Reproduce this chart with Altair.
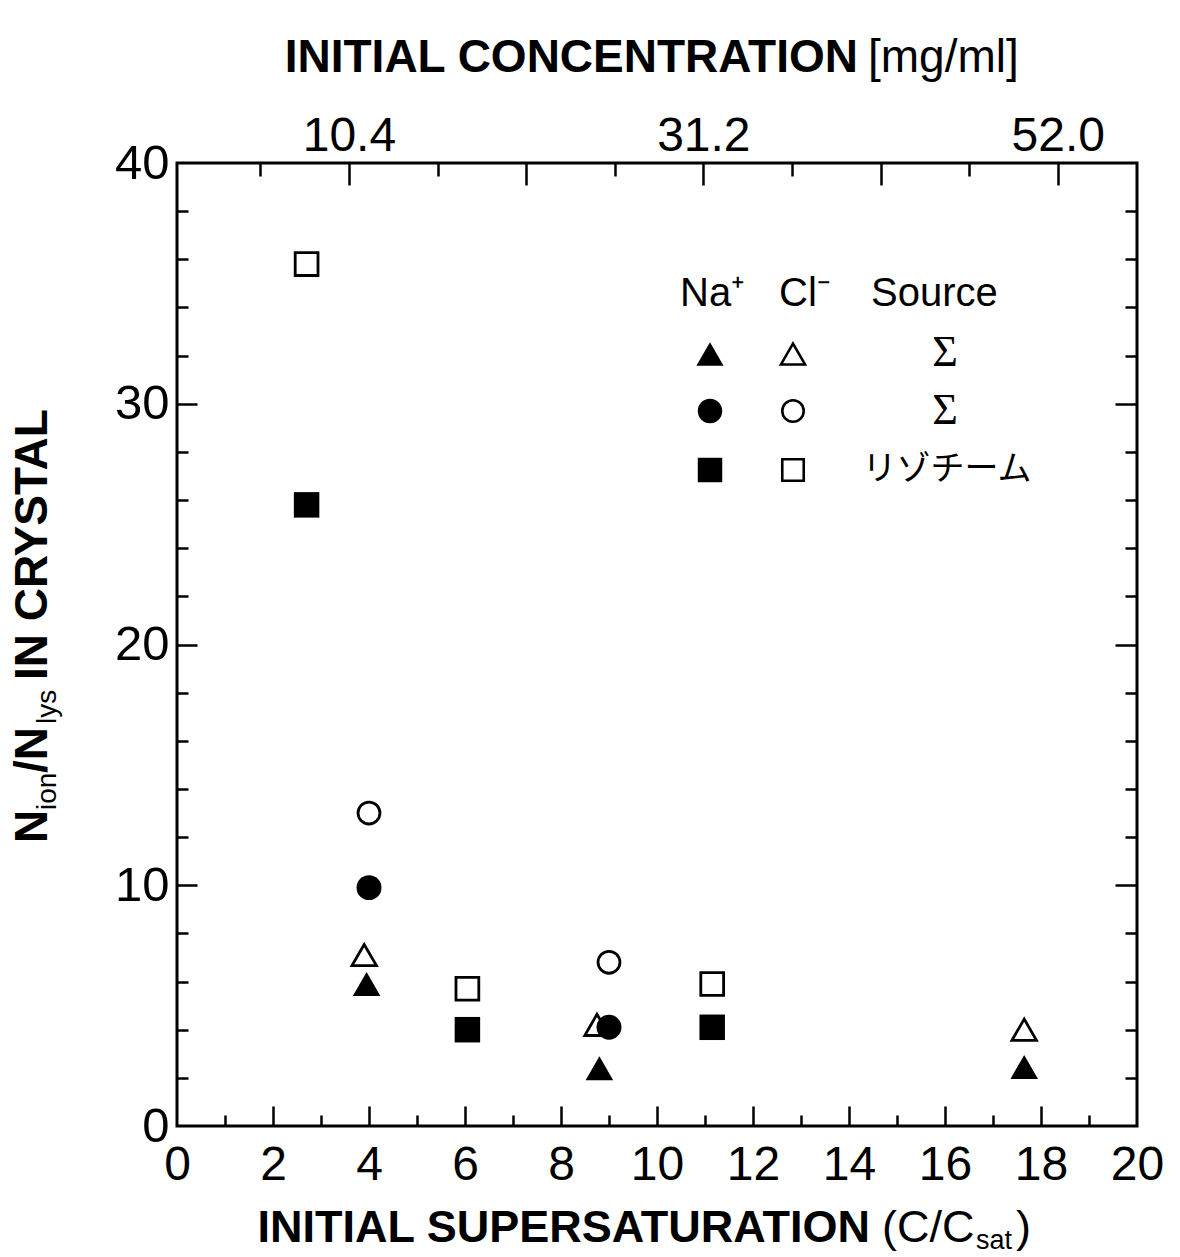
import altair as alt
import pandas as pd

# ---------------- data ----------------
na_tri_x = [3.95, 8.8, 17.65]
na_tri_y = [5.9, 2.4, 2.45]
cl_tri_x = [3.9, 8.75, 17.65]
cl_tri_y = [7.1, 4.2, 4.0]
na_circ_x = [4.0, 9.0]
na_circ_y = [9.9, 4.1]
cl_circ_x = [4.0, 9.0]
cl_circ_y = [13.0, 6.8]
na_sq_x = [2.7, 6.05, 11.15]
na_sq_y = [25.8, 4.0, 4.1]
cl_sq_x = [2.7, 6.05, 11.15]
cl_sq_y = [35.8, 5.7, 5.9]

x_major = [0, 2, 4, 6, 8, 10, 12, 14, 16, 18, 20]
x_minor = [1, 3, 5, 7, 9, 11, 13, 15, 17, 19]
y_major = [0, 10, 20, 30, 40]
y_minor = [2, 4, 6, 8, 12, 14, 16, 18, 22, 24, 26, 28, 32, 34, 36, 38]
conc_major = [10.4, 20.8, 31.2, 41.6, 52.0]
conc_minor = [5.2, 15.6, 26.0, 36.4, 46.8]
conc_labels = [10.4, 31.2, 52.0]

x_title_bold = ["INITIAL SUPERSATURATION"]
x_title_reg = ["(C/C", "sat", ")"]
top_title_bold = ["INITIAL CONCENTRATION"]
top_title_reg = ["[mg/ml]"]
y_title_parts = ["N", "ion", "/N", "lys", "IN CRYSTAL"]
legend_head = ["Na\u207a", "Cl\u207b", "Source"]
legend_source = ["\u03a3", "\u03a3", "リゾチーム"]

# ---------------- layout constants ----------------
W, H = 960, 963
XD, YD, CD = [0, 20], [0, 40], [0.31, 56.65]
SANS = "Liberation Sans, Arial, Helvetica, sans-serif"
COND = "Liberation Sans Narrow, Liberation Sans, Arial, sans-serif"
SERIF = "Liberation Serif, DejaVu Serif, serif"
CJK = "Noto Sans CJK JP, sans-serif"
LBL = 48
TW = 2.5


def xenc(axis):
    return alt.X("x:Q", scale=alt.Scale(domain=XD, nice=False, zero=False), axis=axis)


def yenc(axis):
    return alt.Y("y:Q", scale=alt.Scale(domain=YD, nice=False, zero=False), axis=axis)


def tick_axis(orient, values, size, title=None):
    return alt.Axis(orient=orient, values=values, labels=False, domain=False, grid=False,
                    ticks=True, tickSize=size, tickWidth=TW, tickColor="black",
                    offset=-size, title=title)


ax_x_labels = alt.Axis(orient="bottom", values=x_major, ticks=False, domain=False, grid=False,
                       labelFont=SANS, labelFontSize=LBL, labelColor="black", labelPadding=15,
                       labelFlush=False, title=None)
ax_y_labels = alt.Axis(orient="left", values=y_major, ticks=False, domain=False, grid=False,
                       labelFont=SANS, labelFontSize=LBL + 1, labelColor="black", labelPadding=8,
                       labelFlush=False, title=None)


def pts(xv, yv, shape, filled, size, xaxis, yaxis):
    df = pd.DataFrame({"x": xv, "y": yv})
    if filled:
        m = alt.Chart(df).mark_point(shape=shape, filled=True, fill="black", opacity=1,
                                     size=size, strokeWidth=0)
    else:
        m = alt.Chart(df).mark_point(shape=shape, filled=False, stroke="black", opacity=1,
                                     size=size, strokeWidth=2.8)
    return m.encode(x=xenc(xaxis), y=yenc(yaxis))


layers = [
    pts(na_tri_x, na_tri_y, "triangle-up", True, 760, ax_x_labels, ax_y_labels),
    pts(cl_tri_x, cl_tri_y, "triangle-up", False, 600,
        tick_axis("bottom", x_major[1:-1], 20), tick_axis("left", y_major[1:-1], 20)),
    pts(na_circ_x, na_circ_y, "circle", True, 620,
        tick_axis("bottom", x_minor, 11), tick_axis("left", y_minor, 11)),
    pts(cl_circ_x, cl_circ_y, "circle", False, 480,
        None, tick_axis("right", y_major[1:-1], 22)),
    pts(na_sq_x, na_sq_y, "square", True, 650,
        None, tick_axis("right", y_minor, 12)),
    pts(cl_sq_x, cl_sq_y, "square", False, 520, None, None),
]


def conc_layer(values, axis):
    df = pd.DataFrame({"c": values})
    return alt.Chart(df).mark_point(opacity=0).encode(
        x=alt.X("c:Q", scale=alt.Scale(domain=CD, nice=False, zero=False), axis=axis),
        y=alt.value(0))


layers += [
    conc_layer(conc_labels, alt.Axis(orient="top", values=conc_labels, format=".1f", ticks=False,
                                     domain=False, grid=False, labelFont=SANS, labelFontSize=LBL,
                                     labelColor="black", labelPadding=3, labelFlush=False,
                                     title=None)),
    conc_layer(conc_major, tick_axis("top", conc_major, 22)),
    conc_layer(conc_minor, tick_axis("top", conc_minor, 13)),
]


def txt(s, x, y, size, font=SANS, weight="normal", align="left", baseline="alphabetic", angle=0):
    df = pd.DataFrame({"t": [s]})
    return alt.Chart(df).mark_text(font=font, fontSize=size, fontWeight=weight, align=align,
                                   baseline=baseline, angle=angle, color="black").encode(
        x=alt.value(x), y=alt.value(y), text="t:N")


OX, OY = 177, 163  # plot origin in page coordinates

# bottom title
layers += [
    txt(x_title_bold[0], 870 - OX, 1242 - OY, 45, COND, "bold", align="right"),
    txt(x_title_reg[0], 882 - OX, 1242 - OY, 45, COND),
    txt(x_title_reg[1], 976 - OX, 1249 - OY, 27, COND),
    txt(x_title_reg[2], 1016 - OX, 1242 - OY, 45, COND),
]
# top title
layers += [
    txt(top_title_bold[0], 858 - OX, 72 - OY, 46, COND, "bold", align="right"),
    txt(top_title_reg[0], 868 - OX, 72 - OY, 46, COND),
]
# y title (rotated, reading upwards)
layers += [
    txt(y_title_parts[0], 47 - OX, 843 - OY, 46, COND, "bold", angle=270),
    txt(y_title_parts[1], 56 - OX, 810 - OY, 28, COND, angle=270),
    txt(y_title_parts[2], 47 - OX, 773 - OY, 46, COND, "bold", angle=270),
    txt(y_title_parts[3], 56 - OX, 724 - OY, 28, COND, angle=270),
    txt(y_title_parts[4], 47 - OX, 680 - OY, 46, COND, "bold", angle=270),
]
# legend header and sources
layers += [
    txt(legend_head[0], 680 - OX, 306 - OY, 40),
    txt(legend_head[1], 779 - OX, 306 - OY, 40),
    txt(legend_head[2], 871 - OX, 306 - OY, 40),
    txt(legend_source[0], 945 - OX, 353 - OY, 44, SERIF, align="center", baseline="middle"),
    txt(legend_source[1], 945 - OX, 411 - OY, 44, SERIF, align="center", baseline="middle"),
    txt(legend_source[2], 947 - OX, 470 - OY, 34, CJK, align="center", baseline="middle"),
]

# legend symbols
leg_rows = [("triangle-up", 354, 740, 580), ("circle", 411, 600, 460), ("square", 470, 600, 460)]
for shape, py, sf, so in leg_rows:
    layers.append(alt.Chart(pd.DataFrame({"k": [0]})).mark_point(
        shape=shape, filled=True, fill="black", opacity=1, size=sf, strokeWidth=0).encode(
        x=alt.value(710 - OX), y=alt.value(py - OY)))
    layers.append(alt.Chart(pd.DataFrame({"k": [0]})).mark_point(
        shape=shape, filled=False, stroke="black", opacity=1, size=so, strokeWidth=2.6).encode(
        x=alt.value(793 - OX), y=alt.value(py - OY)))

chart = alt.layer(*layers).resolve_scale(x="independent", y="independent").resolve_axis(
    x="independent", y="independent").properties(
    width=W, height=H,
    autosize=alt.AutoSizeParams(type="none"),
    padding={"left": OX, "top": OY, "right": 1180 - OX - W, "bottom": 1257 - OY - H},
    background="white",
).configure_view(stroke="black", strokeWidth=3)

chart.save("out.html", embed_options={"renderer": "svg", "actions": False})
